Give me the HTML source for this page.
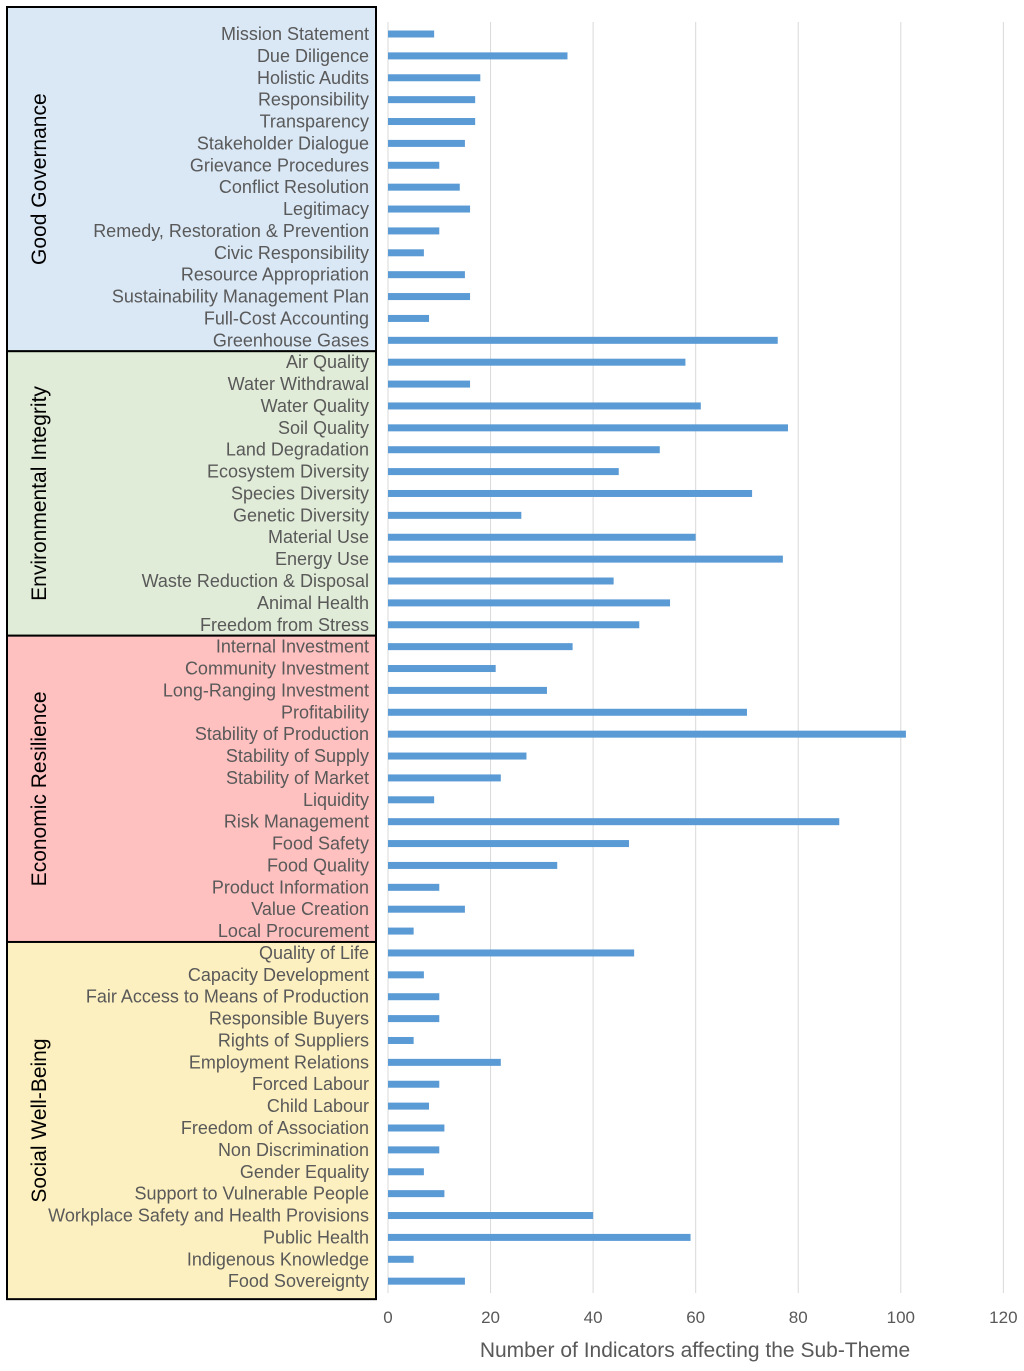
<!DOCTYPE html>
<html><head><meta charset="utf-8"><style>
body{margin:0;background:#fff;width:1024px;height:1366px;overflow:hidden;font-family:"Liberation Sans",sans-serif}
svg text{font-family:"Liberation Sans",sans-serif}
</style></head><body>
<svg id="chart" width="1024" height="1366"></svg>
<script>
const categories=["Mission Statement","Due Diligence","Holistic Audits","Responsibility","Transparency","Stakeholder Dialogue","Grievance Procedures","Conflict Resolution","Legitimacy","Remedy, Restoration & Prevention","Civic Responsibility","Resource Appropriation","Sustainability Management Plan","Full-Cost Accounting","Greenhouse Gases","Air Quality","Water Withdrawal","Water Quality","Soil Quality","Land Degradation","Ecosystem Diversity","Species Diversity","Genetic Diversity","Material Use","Energy Use","Waste Reduction & Disposal","Animal Health","Freedom from Stress","Internal Investment","Community Investment","Long-Ranging Investment","Profitability","Stability of Production","Stability of Supply","Stability of Market","Liquidity","Risk Management","Food Safety","Food Quality","Product Information","Value Creation","Local Procurement","Quality of Life","Capacity Development","Fair Access to Means of Production","Responsible Buyers","Rights of Suppliers","Employment Relations","Forced Labour","Child Labour","Freedom of Association","Non Discrimination","Gender Equality","Support to Vulnerable People","Workplace Safety and Health Provisions","Public Health","Indigenous Knowledge","Food Sovereignty"];
const values=[9,35,18,17,17,15,10,14,16,10,7,15,16,8,76,58,16,61,78,53,45,71,26,60,77,44,55,49,36,21,31,70,101,27,22,9,88,47,33,10,15,5,48,7,10,10,5,22,10,8,11,10,7,11,40,59,5,15];
const groupNames=["Good Governance","Environmental Integrity","Economic Resilience","Social Well-Being"];
const groupCounts=[15,13,14,16];
const groupColors=["#dae8f6","#e1ecd8","#ffc0c0","#fdf0c0"];
const ticks=[0,20,40,60,80,100,120];

const svg=document.getElementById('chart');const NS="http://www.w3.org/2000/svg";
function mk(t,a,p){const e=document.createElementNS(NS,t);for(const k in a)e.setAttribute(k,a[k]);(p||svg).appendChild(e);return e;}
const x0=388,pxPer=5.128;const xs=v=>x0+v*pxPer;
const y0=34,step=21.88;const ys=i=>y0+i*step;
let start=0;
groupNames.forEach((g,gi)=>{
 const top=gi==0?7:ys(start)-11,bot=ys(start+groupCounts[gi]-1)+11+(gi==3?7:0);
 const r=mk('rect',{x:7,y:top,width:369,height:bot-top,fill:groupColors[gi],stroke:"#000","stroke-width":2});
 
 const cy=(top+bot)/2;
 const t=mk('text',{x:0,y:0,transform:`translate(46,${cy}) rotate(-90)`,"text-anchor":"middle","font-size":21,fill:"#000"});
 t.textContent=g;
 start+=groupCounts[gi];
});
ticks.forEach(v=>{
 if(v>0){const l=mk('line',{x1:xs(v),x2:xs(v),y1:22,y2:1293,stroke:"#d9d9d9","stroke-width":1});}
 const t=mk('text',{x:xs(v),y:1323,"text-anchor":"middle","font-size":17,fill:"#595959"});t.textContent=v;
 
});
const ax=mk('line',{x1:x0,x2:x0,y1:22,y2:1293,stroke:"#d9d9d9","stroke-width":1});
categories.forEach((c,i)=>{
 const t=mk('text',{x:369,y:ys(i)+6,"text-anchor":"end","font-size":18,fill:"#595959"});t.textContent=c;
 
 const b=mk('rect',{x:x0,y:ys(i)-3.5,width:xs(values[i])-x0,height:7,fill:"#5b9bd5"});
 
});
const xt=mk('text',{x:695,y:1357,"text-anchor":"middle","font-size":21,fill:"#595959"});xt.textContent="Number of Indicators affecting the Sub-Theme";

</script>
</body></html>
